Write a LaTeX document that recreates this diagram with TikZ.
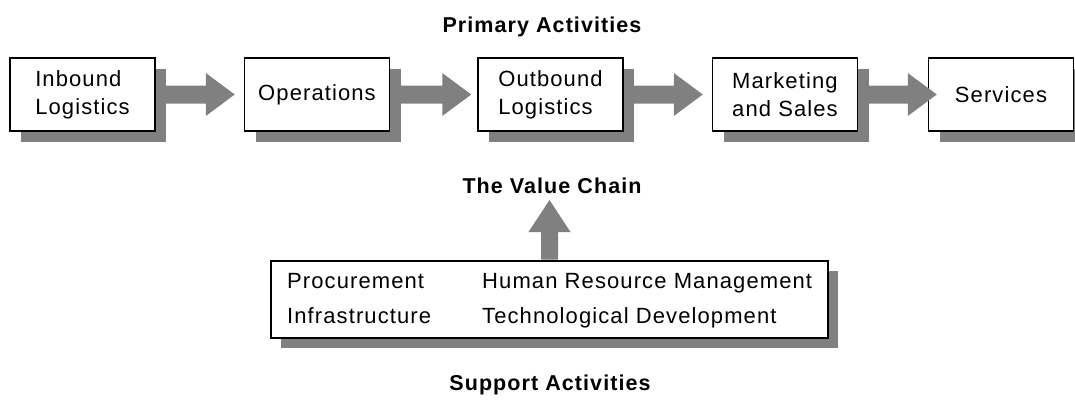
\documentclass[tikz,border=0pt]{standalone}
\usepackage{fontspec}
\setmainfont{Liberation Sans}
\newfontfamily\boxfont[LetterSpace=5]{Liberation Sans}
\newfontfamily\titlefont[LetterSpace=5]{Liberation Sans}
\usetikzlibrary{calc,shadows}
\definecolor{shgray}{HTML}{808080}
\begin{document}
\begin{tikzpicture}[x=1pt,y=-1pt,
  stagebox/.style={draw=black, line width=1.5pt, fill=white,
    minimum width=145pt, minimum height=73pt, inner sep=0pt, align=left,
    font=\boxfont\fontsize{22}{28}\selectfont,
    drop shadow={shadow xshift=11pt, shadow yshift=-11pt, fill=shgray, opacity=1}},
  supbox/.style={draw=black, line width=1.5pt, fill=white, inner sep=0pt,
    minimum width=557pt, minimum height=77pt,
    drop shadow={shadow xshift=10pt, shadow yshift=-10pt, fill=shgray, opacity=1}},
  suptext/.style={anchor=base west, inner sep=0pt, font=\boxfont\fontsize{22}{28}\selectfont},
  titletext/.style={anchor=base, inner sep=0pt, font=\titlefont\bfseries\fontsize{21.5}{24}\selectfont},
  blockarrow/.style={fill=shgray, draw=none}
]
\useasboundingbox (0,0) rectangle (1075,399);

% titles
\node[titletext] (primary) at (542,32) {Primary Activities};
\node[titletext] (chain) at (552,193) {The Value Chain};
\node[titletext] (support) at (550,390) {Support Activities};

% primary activity boxes
\node[stagebox] (inb) at (82.5,94.5) {Inbound\\Logistics};
\node[stagebox] (ops) at (317,94.5) {Operations};
\node[stagebox] (outb) at (550.5,94.5) {Outbound\\Logistics};
\node[stagebox] (mkt) at (785,94.5) {Marketing\\and Sales};
\node[stagebox] (srv) at (1001,94.5) {Services};

% arrow tips
\coordinate (t1) at ($(ops.west)+(-9,0)$);
\coordinate (t2) at ($(outb.west)+(-6,0)$);
\coordinate (t3) at ($(mkt.west)+(-9,0)$);
\coordinate (t4) at ($(srv.west)+(9,0)$);

\fill[blockarrow] ($(inb.east)+(10,-9)$) -- ($(t1)+(-29,-9)$) -- ($(t1)+(-29,-21.5)$) -- (t1)
  -- ($(t1)+(-29,21.5)$) -- ($(t1)+(-29,9)$) -- ($(inb.east)+(10,9)$) -- cycle;
\fill[blockarrow] ($(ops.east)+(10,-9)$) -- ($(t2)+(-29,-9)$) -- ($(t2)+(-29,-21.5)$) -- (t2)
  -- ($(t2)+(-29,21.5)$) -- ($(t2)+(-29,9)$) -- ($(ops.east)+(10,9)$) -- cycle;
\fill[blockarrow] ($(outb.east)+(10,-9)$) -- ($(t3)+(-29,-9)$) -- ($(t3)+(-29,-21.5)$) -- (t3)
  -- ($(t3)+(-29,21.5)$) -- ($(t3)+(-29,9)$) -- ($(outb.east)+(10,9)$) -- cycle;
\fill[blockarrow] ($(mkt.east)+(10,-9)$) -- ($(t4)+(-29,-9)$) -- ($(t4)+(-29,-21.5)$) -- (t4)
  -- ($(t4)+(-29,21.5)$) -- ($(t4)+(-29,9)$) -- ($(mkt.east)+(10,9)$) -- cycle;

% support activities box
\node[supbox] (sup) at (549.5,299.5) {};
\node[suptext] (proc) at (287,288) {Procurement};
\node[suptext] (infra) at (287,323) {Infrastructure};
\node[suptext] (hrm) at (482,288) {Human Resource Management};
\node[suptext] (tech) at (482,323) {Technological Development};

% vertical arrow from support box to the value chain
\coordinate (vt) at ($(chain.base)+(-2.5,7)$);
\coordinate (vb) at (sup.north);
\fill[blockarrow] ($(vb)+(-8.5,-0.75)$) -- ($(vt)+(-8.5,32)$) -- ($(vt)+(-21,32)$) -- (vt)
  -- ($(vt)+(21,32)$) -- ($(vt)+(8.5,32)$) -- ($(vb)+(8.5,-0.75)$) -- cycle;
\end{tikzpicture}
\end{document}
